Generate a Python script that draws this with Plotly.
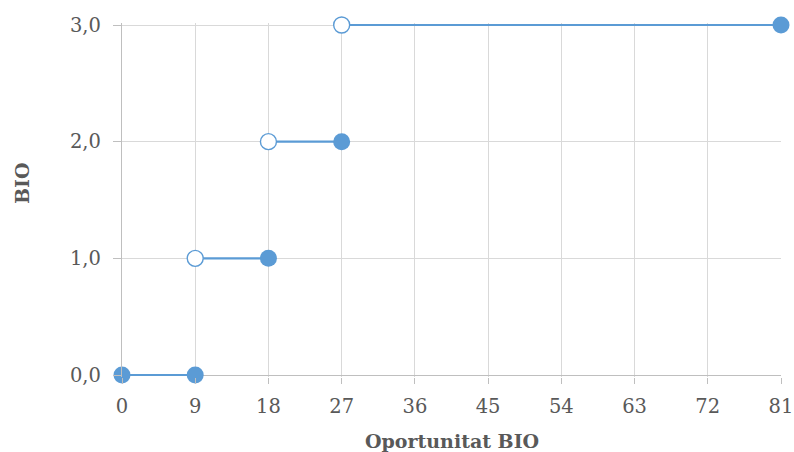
import plotly.graph_objects as go

seg_x_start = [0, 9, 18, 27]
seg_x_end = [9, 18, 27, 81]
seg_y = [0, 1, 2, 3]
start_open = [False, True, True, True]
x_ticks = [0, 9, 18, 27, 36, 45, 54, 63, 72, 81]
y_ticks = [0, 1, 2, 3]

BLUE = "#5B9BD5"
FONT = "DejaVu Serif"
TXT = "#595959"
GRID = "#D9D9D9"
AXIS = "#BFBFBF"

fig = go.Figure()
for xs, xe, y, op in zip(seg_x_start, seg_x_end, seg_y, start_open):
    fig.add_trace(go.Scatter(
        x=[xs, xe], y=[y, y], mode="lines",
        line=dict(color=BLUE, width=2.2), showlegend=False, cliponaxis=False,
        hoverinfo="skip"))
    fig.add_trace(go.Scatter(
        x=[xs], y=[y], mode="markers", showlegend=False, cliponaxis=False,
        marker=dict(size=16 if op else 17,
                    color="white" if op else BLUE,
                    line=dict(color=BLUE, width=1.4 if op else 0))))
    fig.add_trace(go.Scatter(
        x=[xe], y=[y], mode="markers", showlegend=False, cliponaxis=False,
        marker=dict(size=17, color=BLUE, line=dict(width=0))))

pad = 2 / (350 / 3)  # 2px of padding so end lines are not clipped

fig.update_layout(
    width=794, height=452,
    margin=dict(l=122, r=13, t=23, b=75),
    paper_bgcolor="white", plot_bgcolor="white",
    separators=",.",
    font=dict(family=FONT, size=19.5, color=TXT),
    xaxis=dict(range=[0, 81], tickvals=x_ticks, showgrid=True, gridcolor=GRID,
               gridwidth=1.4, showline=False, automargin=False,
               ticks="outside", ticklen=6, tickcolor=AXIS, tickwidth=1.4,
               zeroline=False, ticklabelstandoff=6),
    yaxis=dict(range=[-pad, 3 + pad], tickvals=y_ticks, tickformat=".1f", showgrid=True,
               gridcolor=GRID, gridwidth=1.4, showline=True, linecolor=AXIS,
               linewidth=1.4, ticks="outside", ticklen=8, tickcolor=AXIS, tickwidth=1.4,
               zeroline=True, zerolinecolor=AXIS, zerolinewidth=1.4,
               automargin=False, ticklabelstandoff=8),
    annotations=[
        dict(text="<b>Oportunitat BIO</b>", xref="paper", yref="paper",
             x=0.5, y=(377 - 428) / 354, xanchor="center", yanchor="top",
             showarrow=False, font=dict(size=19, color=TXT)),
        dict(text="<b>BIO</b>", xref="paper", yref="paper",
             x=(22 - 122) / 659, y=(377 - 183) / 354, xanchor="center", yanchor="middle",
             textangle=-90, showarrow=False, font=dict(size=19, color=TXT)),
    ],
)

fig.write_html("out.html", config={"displayModeBar": False},
               post_script="document.body.style.margin='0';document.body.style.overflow='hidden';")
